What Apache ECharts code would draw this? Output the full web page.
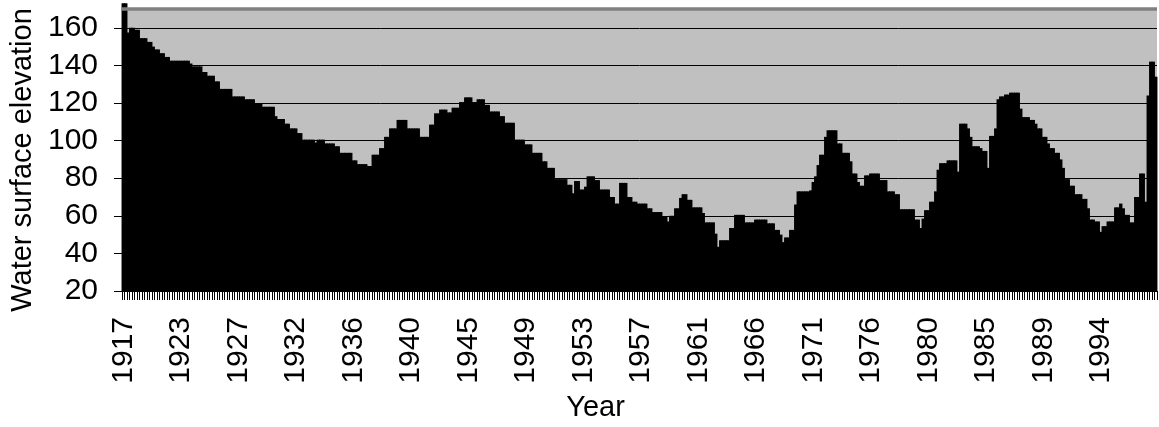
<!DOCTYPE html>
<html>
<head>
<meta charset="utf-8">
<title>Water surface elevation</title>
<script src="https://cdn.jsdelivr.net/npm/echarts@6/dist/echarts.min.js"></script>
<style>
  html, body { margin: 0; padding: 0; background: #ffffff; }
  #chart { width: 1159px; height: 427px; }
</style>
</head>
<body>
<div id="chart"></div>
<script>
// Water surface elevation, one bar per record
const elevation = [
  173,173,157.5,160,160,159,159,154.5,154.5,154.5,
  152.5,152.5,150,148.5,148.5,146.5,146.5,144.5,144.5,142.5,
  142.5,142.5,142.5,142.5,142.5,142.5,142.5,141,139.5,139.5,
  139.5,139.5,136.5,136.5,134.5,134.5,134.5,131.5,131.5,127.5,
  127.5,127.5,127.5,127.5,123.5,123.5,123.5,123.5,123.5,122,
  122,122,122,120,120,120,118,118,118,118,
  118,113,111.5,111.5,111.5,109,109,106.5,106.5,106.5,
  104,104,100.5,100.5,100.5,100.5,100.5,99,100.5,100.5,
  100.5,98.5,98.5,98.5,98.5,97,97,93.5,93.5,93.5,
  93.5,93.5,89.5,89.5,87.5,87.5,87.5,87.5,86.5,86.5,
  92.5,92.5,92.5,96,96,102,102,106.5,106.5,106.5,
  111,111,111,111,106.5,106.5,106.5,106.5,106.5,102,
  102,102,102,108.5,108.5,114.5,114.5,116.5,116.5,116.5,
  115,115,117.5,117.5,117.5,120.5,120.5,123,123,123,
  120.5,120.5,122,122,122,119,119,115.5,115.5,115.5,
  115.5,113,113,109.5,109.5,109.5,109.5,100.5,100.5,100.5,
  100.5,98,98,98,93.5,93.5,93.5,93.5,89,89,
  85.5,85.5,85.5,79.5,79.5,79.5,79.5,79.5,76.5,76.5,
  72,78.5,78.5,74,74,75.5,81,81,81,79,
  79,74,74,74,74,70,70,66.5,66.5,77.5,
  77.5,77.5,70,70,67.5,67.5,66.5,66.5,66.5,66.5,
  64,64,62,62,62,62,59.5,59.5,57,60,
  60,64,64,69.5,71.5,71.5,68.5,68.5,64.5,64.5,
  64.5,64.5,61.5,56.5,56.5,56.5,56.5,50.5,43.5,47,
  47,47,47,53.5,53.5,60.5,60.5,60.5,60.5,56.5,
  56.5,56.5,56.5,58,58,58,58,58,56,56,
  56,52.5,52.5,50,46,48.5,48.5,52.5,52.5,66,
  73,73,73,73,73,73.5,78,81,87,92.5,
  92.5,102,105.5,105.5,105.5,105.5,98.5,98.5,93.5,93.5,
  93.5,89,82.5,82.5,78,76,76,81.5,81.5,82.5,
  82.5,82.5,82.5,79,79,79,73,73,73,71.5,
  71.5,63.5,63.5,63.5,63.5,63.5,63.5,58,58,53.5,
  58.5,63,63,67.5,67.5,73,84.5,88,88,88,
  89.5,89.5,89.5,89.5,83.5,109,109,109,106.5,102,
  97,97,97,96,94.5,94.5,85.5,102.5,102.5,106.5,
  122,123.5,123.5,124.5,124.5,125.5,125.5,125.5,125.5,117,
  112.5,112.5,112.5,111,111,109,106.5,106.5,102,102,
  98.5,96,96,93.5,93.5,90,85.5,79.5,79.5,76,
  76,71.5,71.5,71.5,69,69,64,58,58,57,
  57,51.5,54.5,54.5,57,57,57,64.5,64.5,66.5,
  64,60.5,60.5,56.5,56.5,70,70,82.5,82.5,67.5,
  124,142,142,134
];

// Year labels, one every LABEL_STEP records
const yearLabels = [
  '1917','1923','1927','1932','1936','1940','1945','1949','1953',
  '1957','1961','1966','1971','1976','1980','1985','1989','1994'
];
const LABEL_STEP = 23;

// Value axis ticks
const yTicks = [20, 40, 60, 80, 100, 120, 140, 160];
const Y_MIN = 20;
const Y_MAX = 170;

const records = elevation.map((_, i) => String(i));

const FONT = "'Liberation Sans', Arial, sans-serif";

const chart = echarts.init(document.getElementById('chart'), null, { renderer: 'canvas' });

chart.setOption({
  animation: false,
  backgroundColor: '#ffffff',
  grid: {
    left: 122,
    right: 2,
    top: 9,
    bottom: 136,
    show: true,
    backgroundColor: '#c0c0c0',
    borderWidth: 0
  },
  xAxis: {
    type: 'category',
    data: records,
    boundaryGap: true,
    name: 'Year',
    nameLocation: 'middle',
    nameGap: 102,
    nameTextStyle: {
      fontFamily: FONT,
      fontSize: 29,
      color: '#000',
      padding: [0, 88, 0, 0]
    },
    axisLine: { show: true, lineStyle: { color: '#000', width: 1 } },
    axisTick: {
      show: true,
      interval: 0,
      length: 9,
      lineStyle: { color: '#000', width: 1 }
    },
    axisLabel: {
      interval: LABEL_STEP - 1,
      rotate: 90,
      margin: 26,
      fontFamily: FONT,
      fontSize: 30,
      color: '#000',
      formatter: (value, index) =>
        index % LABEL_STEP === 0 ? (yearLabels[index / LABEL_STEP] || '') : ''
    },
    splitLine: { show: false }
  },
  yAxis: {
    type: 'value',
    min: Y_MIN,
    max: Y_MAX,
    interval: 20,
    startValue: Y_MIN,
    name: 'Water surface elevation',
    nameLocation: 'middle',
    nameGap: 83,
    nameRotate: 90,
    nameTextStyle: {
      fontFamily: FONT,
      fontSize: 29,
      color: '#000',
      padding: [0, 20, 0, 0]
    },
    axisLine: { show: true, lineStyle: { color: '#000', width: 1 } },
    axisTick: {
      show: true,
      length: 8,
      customValues: yTicks,
      lineStyle: { color: '#000', width: 1 }
    },
    axisLabel: {
      margin: 24,
      fontFamily: FONT,
      fontSize: 30,
      color: '#000',
      customValues: yTicks,
      formatter: v => (yTicks.indexOf(v) >= 0 ? String(v) : '')
    },
    splitLine: { show: true, lineStyle: { color: '#000', width: 1 } }
  },
  series: [
    {
      // plot-area top border
      type: 'line',
      data: [],
      z: 1,
      silent: true,
      markLine: {
        silent: true,
        symbol: 'none',
        label: { show: false },
        lineStyle: { color: '#808080', width: 3.5, type: 'solid' },
        data: [{ yAxis: Y_MAX }]
      }
    },
    {
      type: 'bar',
      data: elevation,
      z: 3,
      silent: true,
      clip: false,
      // slightly wider than one band so neighbouring columns overlap without seams
      barWidth: 3.4,
      itemStyle: { color: '#000', borderWidth: 0 }
    }
  ]
});
</script>
</body>
</html>
